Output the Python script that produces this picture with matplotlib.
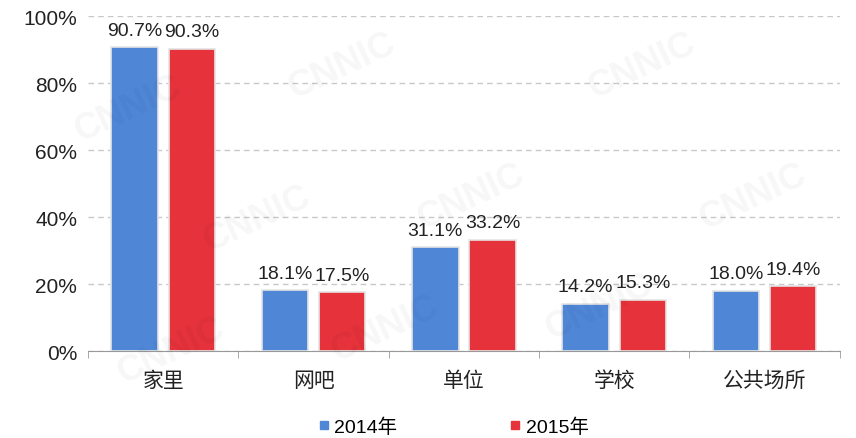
import numpy as np
import matplotlib
matplotlib.use('Agg')
import matplotlib.pyplot as plt
from matplotlib.lines import Line2D

plt.rcParams['font.family'] = ['Liberation Sans', 'Noto Sans CJK SC', 'DejaVu Sans']

categories = ['家里', '网吧', '单位', '学校', '公共场所']
values_2014 = [90.7, 18.1, 31.1, 14.2, 18.0]
values_2015 = [90.3, 17.5, 33.2, 15.3, 19.4]
series_names = ['2014年', '2015年']
yticks = [0, 20, 40, 60, 80, 100]

blue = '#4f87d6'
red = '#e5323b'

fig = plt.figure(figsize=(8.56, 4.39), dpi=100)
ax = fig.add_axes([0.103, 0.198, 0.878, 0.763])

x = np.arange(len(categories))
w = 0.31
off = 0.19
b1 = ax.bar(x - off, values_2014, w, color=blue, edgecolor='#e4e4e4', linewidth=1.2, zorder=3)
b2 = ax.bar(x + off, values_2015, w, color=red, edgecolor='#e4e4e4', linewidth=1.2, zorder=3)

for bars, vals in ((b1, values_2014), (b2, values_2015)):
    for r, v in zip(bars, vals):
        ax.text(r.get_x() + r.get_width() / 2, v + 2.5, '{:.1f}%'.format(v),
                ha='center', va='bottom', fontsize=14, color='#222222')

# faint watermark
for wx, wy in [(0.2, 0.2), (0.4, 0.85), (0.55, 0.55), (0.75, 0.85), (0.88, 0.55),
               (0.3, 0.5), (0.45, 0.25), (0.7, 0.3), (0.15, 0.75)]:
    fig.text(wx, wy, 'CNNIC', fontsize=26, fontweight='bold', color='#000000',
             alpha=0.035, rotation=25, ha='center', va='center')

ax.set_xlim(-0.5, len(categories) - 0.5)
ax.set_ylim(0, 100)
ax.set_yticks(yticks)
ax.set_yticklabels(['{}%'.format(t) for t in yticks], fontsize=15, color='#222222')
ax.set_xticks(x)
ax.set_xticklabels(categories, fontsize=15, color='#222222')
ax.tick_params(axis='x', length=0, pad=14)
ax.tick_params(axis='y', length=0, pad=8)
ax.set_xticks(np.arange(len(categories) + 1) - 0.5, minor=True)
ax.tick_params(axis='x', which='minor', length=5, color='#999999')

ax.grid(axis='y', linestyle=(0, (4, 3)), color='#c8c8c8', linewidth=1, zorder=0)
for s in ['top', 'right', 'left']:
    ax.spines[s].set_visible(False)
ax.spines['bottom'].set_color('#999999')

handles = [Line2D([], [], marker='s', linestyle='none', markersize=6, color=blue),
           Line2D([], [], marker='s', linestyle='none', markersize=6, color=red)]
fig.legend(handles=handles, labels=series_names, loc='lower center',
           bbox_to_anchor=(0.53, -0.035), ncol=2, frameon=False, fontsize=14,
           handlelength=0.5, handletextpad=0.3, columnspacing=5.8)

plt.savefig('out.png', dpi=100)
